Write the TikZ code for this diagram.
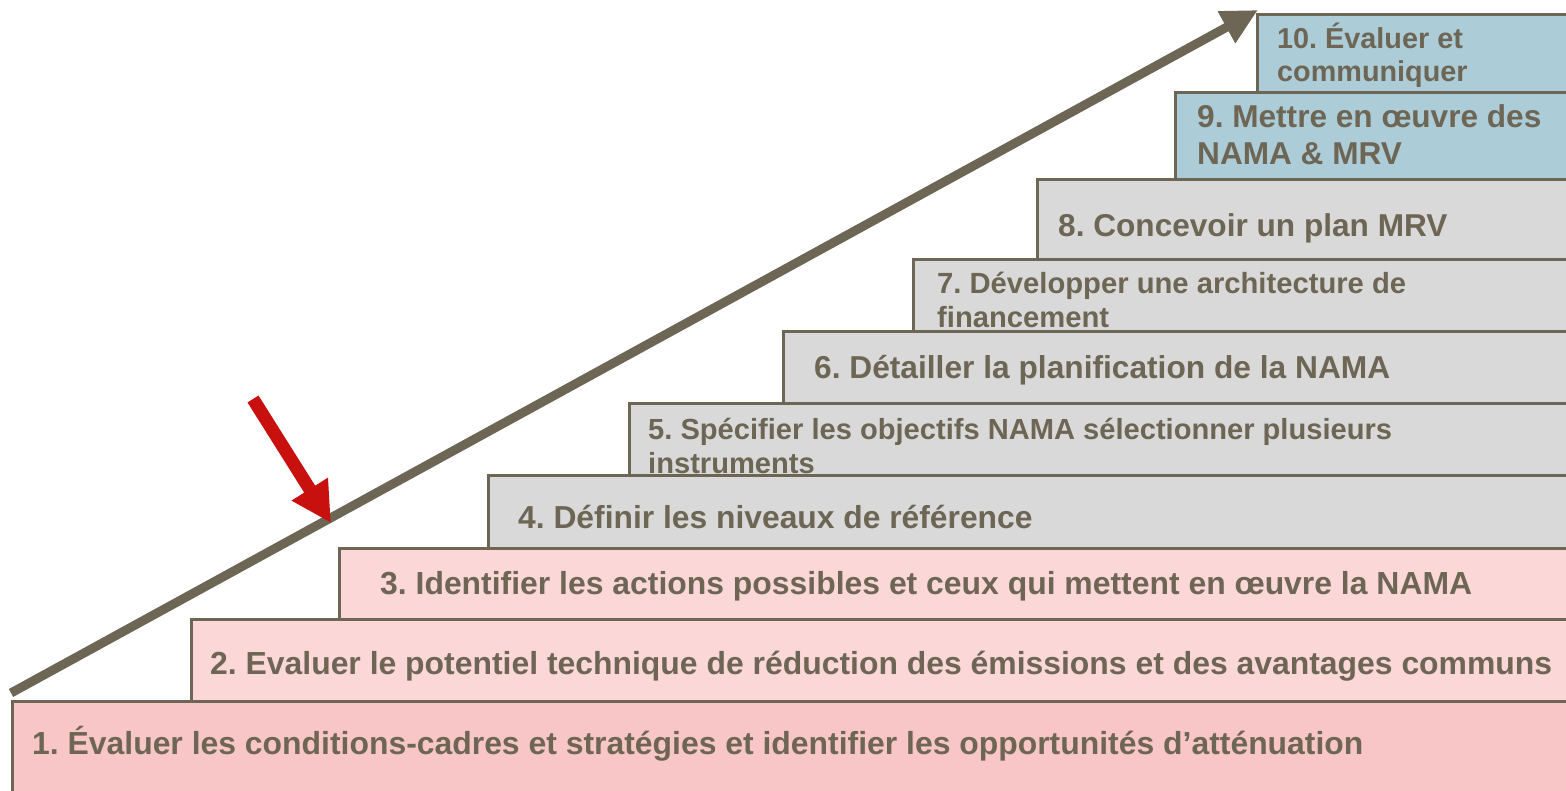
\documentclass[tikz,border=0pt]{standalone}
\usepackage{fontspec}
\setmainfont{Liberation Sans}
\usetikzlibrary{arrows.meta}
\frenchspacing
\definecolor{ink}{HTML}{6E6655}
\definecolor{pinkA}{HTML}{F8C6C6}
\definecolor{pinkB}{HTML}{FBD7D7}
\definecolor{greyF}{HTML}{D9D9D9}
\definecolor{blueF}{HTML}{ACCCD8}
\definecolor{redA}{HTML}{C8100F}
\tikzset{
  stepbox/.style={draw=ink, line width=3pt, anchor=north west, inner sep=0pt, rectangle},
  steptext/.style={text=ink, anchor=west, align=left, inner sep=0pt},
  fs/.style 2 args={font=\fontsize{#1}{#2}\selectfont\bfseries}
}
\begin{document}
\begin{tikzpicture}[x=1pt,y=-1pt]
\clip (0,0) rectangle (1566,791);
\fill[white] (0,0) rectangle (1566,791);
% boxes with their texts, drawn from top to bottom so lower boxes overlap upper ones
\node[stepbox, fill=blueF, minimum width=400pt, minimum height=100pt] (b10) at (1256,13) {};
\node[steptext, fs={28.8}{33}] (t10) at (1277,55) {10. Évaluer et\\communiquer};
\node[stepbox, fill=blueF, minimum width=460pt, minimum height=110pt] (b9) at (1174,91) {};
\node[steptext, fs={31.6}{37}] (t9) at (1197,135) {9. Mettre en œuvre des\\NAMA \& MRV};
\node[stepbox, fill=greyF, minimum width=600pt, minimum height=110pt] (b8) at (1036,178) {};
\node[steptext, fs={31.6}{34}] (t8) at (1058,228) {8. Concevoir un plan MRV};
\node[stepbox, fill=greyF, minimum width=720pt, minimum height=100pt] (b7) at (912,258) {};
\node[steptext, fs={29.2}{34}] (t7) at (937,300) {7. Développer une architecture de\\financement};
\node[stepbox, fill=greyF, minimum width=850pt, minimum height=100pt] (b6) at (782,330) {};
\node[steptext, fs={31.7}{34}] (t6) at (814,370) {6. Détailler la planification de la NAMA};
\node[stepbox, fill=greyF, minimum width=1000pt, minimum height=100pt] (b5) at (628,402) {};
\node[steptext, fs={29.1}{34}] (t5) at (648,446) {5. Spécifier les objectifs NAMA sélectionner plusieurs\\instruments};
\node[stepbox, fill=greyF, minimum width=1150pt, minimum height=100pt] (b4) at (487,474) {};
\node[steptext, fs={31.8}{34}] (t4) at (518,517) {4. Définir les niveaux de référence};
\node[stepbox, fill=pinkB, minimum width=1300pt, minimum height=100pt] (b3) at (338,547) {};
\node[steptext, fs={31.9}{34}] (t3) at (380,586) {3. Identifier les actions possibles et ceux qui mettent en œuvre la NAMA};
\node[stepbox, fill=pinkB, minimum width=1450pt, minimum height=100pt] (b2) at (190,618) {};
\node[steptext, fs={31.9}{34}] (t2) at (210,666) {2. Evaluer le potentiel technique de réduction des émissions et des avantages communs};
\node[stepbox, fill=pinkA, minimum width=1600pt, minimum height=120pt] (b1) at (11,700) {};
\node[steptext, fs={31.9}{36}] (t1) at (32,744) {1. Évaluer les conditions-cadres et stratégies et identifier les opportunités d’atténuation};
% arrows
\coordinate (gstart) at (11,693);
\coordinate (gtip) at (1258,10);
\draw[ink, line width=9pt, -{Triangle[length=36pt,width=34pt]}] (gstart) -- (gtip);
\coordinate (rtail) at (253,399);
\coordinate (rtip) at (331,523);
\draw[redA, line width=13pt, -{Triangle[length=40pt,width=40pt]}] (rtail) -- (rtip);
\end{tikzpicture}
\end{document}
